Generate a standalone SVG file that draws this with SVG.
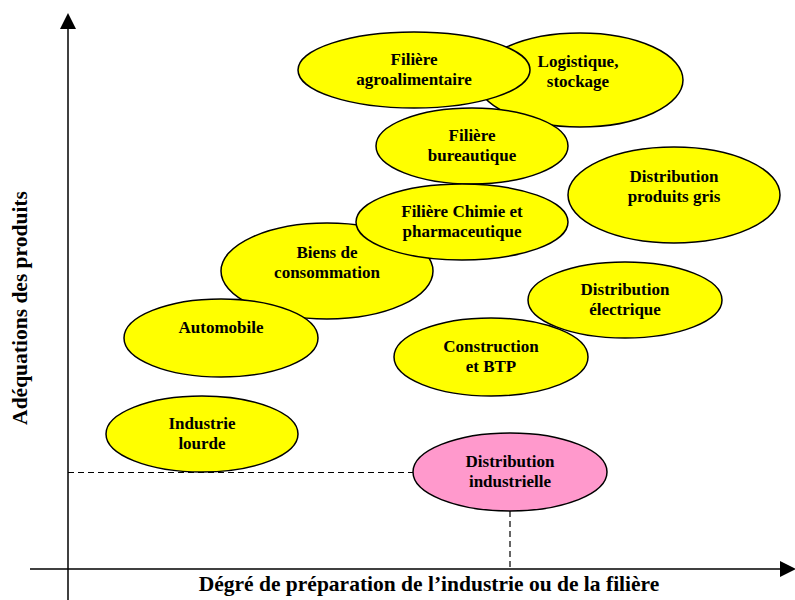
<svg xmlns="http://www.w3.org/2000/svg" width="795" height="600" viewBox="0 0 795 600">
<style>
.n ellipse{fill:#ffff00;stroke:#000;stroke-width:1.5}
.n.p ellipse{fill:#ff99cc}
text{font-family:"Liberation Serif","Times New Roman",serif;font-weight:bold;fill:#000}
.n text{font-size:17px;text-anchor:middle}
.ax{font-size:21.5px}
.dash{stroke:#000;stroke-width:1.2;stroke-dasharray:6,4;fill:none}
</style>
<rect width="795" height="600" fill="#fff"/>
<g id="axes">
<line x1="68" y1="600" x2="68" y2="28" stroke="#000" stroke-width="1.5"/>
<polygon points="68,13 60,29 76,29" fill="#000"/>
<line x1="30" y1="569" x2="781" y2="569" stroke="#000" stroke-width="1.5"/>
<polygon points="796,569 780,561 780,577" fill="#000"/>
<text class="ax" x="429" y="591" text-anchor="middle">Dégré de préparation de l’industrie ou de la filière</text>
<text class="ax" transform="translate(27,308) rotate(-90)" text-anchor="middle">Adéquations des produits</text>
</g>
<g id="connectors">
<line class="dash" x1="68" y1="472.5" x2="414" y2="472.5"/>
<line class="dash" x1="510" y1="511" x2="510" y2="569"/>
</g>
<g id="logistique" class="n"><ellipse cx="580" cy="80" rx="103" ry="47"/><text x="578" y="67">Logistique,</text><text x="578" y="87">stockage</text></g>
<g id="agroalimentaire" class="n"><ellipse cx="414" cy="70" rx="116" ry="38"/><text x="414" y="65">Filière</text><text x="414" y="85">agroalimentaire</text></g>
<g id="bureautique" class="n"><ellipse cx="472" cy="146" rx="96" ry="38"/><text x="472" y="141">Filière</text><text x="472" y="161">bureautique</text></g>
<g id="produits-gris" class="n"><ellipse cx="674" cy="195" rx="106" ry="48"/><text x="674" y="182">Distribution</text><text x="674" y="202">produits gris</text></g>
<g id="biens" class="n"><ellipse cx="327" cy="271" rx="106" ry="48"/><text x="327" y="258">Biens de</text><text x="327" y="278">consommation</text></g>
<g id="chimie" class="n"><ellipse cx="462" cy="222" rx="106" ry="38"/><text x="462" y="217">Filière Chimie et</text><text x="462" y="237">pharmaceutique</text></g>
<g id="automobile" class="n"><ellipse cx="221" cy="338" rx="97" ry="39"/><text x="221" y="333">Automobile</text></g>
<g id="construction" class="n"><ellipse cx="491" cy="357" rx="97" ry="39"/><text x="491" y="352">Construction</text><text x="491" y="372">et BTP</text></g>
<g id="electrique" class="n"><ellipse cx="625" cy="300" rx="97" ry="38"/><text x="625" y="295">Distribution</text><text x="625" y="315">électrique</text></g>
<g id="industrie-lourde" class="n"><ellipse cx="202" cy="434" rx="96" ry="38"/><text x="202" y="429">Industrie</text><text x="202" y="449">lourde</text></g>
<g id="distribution-industrielle" class="n p"><ellipse cx="510" cy="472" rx="97" ry="39"/><text x="510" y="467">Distribution</text><text x="510" y="487">industrielle</text></g>
</svg>
